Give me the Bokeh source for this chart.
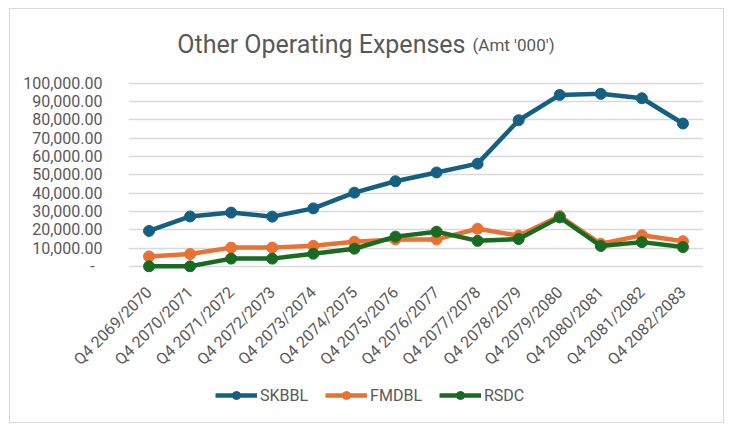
import math
from bokeh.plotting import figure
from bokeh.layouts import column
from bokeh.models import (FactorRange, Range1d, FixedTicker, CustomJSTickFormatter,
                          Legend, LegendItem, Label)
from bokeh.embed import file_html
from bokeh.resources import INLINE

categories = ["Q4 2069/2070", "Q4 2070/2071", "Q4 2071/2072", "Q4 2072/2073",
              "Q4 2073/2074", "Q4 2074/2075", "Q4 2075/2076", "Q4 2076/2077",
              "Q4 2077/2078", "Q4 2078/2079", "Q4 2079/2080", "Q4 2080/2081",
              "Q4 2081/2082", "Q4 2082/2083"]
skbbl = [19400, 27300, 29400, 27200, 31700, 40300, 46500, 51300, 56100,
         79800, 93600, 94200, 91800, 78000]
fmdbl = [5500, 6800, 10300, 10300, 11300, 13500, 14800, 14800, 20600,
         16800, 27500, 12400, 17000, 13800]
rsdc = [100, 100, 4300, 4300, 7000, 9700, 16300, 19000, 14000,
        15000, 26800, 11200, 13300, 10600]
series_names = ["SKBBL", "FMDBL", "RSDC"]
series_values = [skbbl, fmdbl, rsdc]
colors = ["#156082", "#E97132", "#196B24"]
y_ticks = list(range(0, 100001, 10000))

FONT = "Roboto"
TEXT = "#595959"
LW = 4.5
MS = 11

p = figure(width=713, height=370, x_range=FactorRange(*categories),
           y_range=Range1d(-3270, 134200), output_backend="svg",
           toolbar_location=None, min_border_left=118, min_border_right=20,
           min_border_top=11, min_border_bottom=107)
p.outline_line_color = None

p.xgrid.grid_line_color = None
p.ygrid.grid_line_color = "#D9D9D9"
p.ygrid.grid_line_width = 1.5

p.yaxis.ticker = FixedTicker(ticks=y_ticks)
p.yaxis.formatter = CustomJSTickFormatter(code="""
    if (tick == 0) { return "-\u00a0\u00a0"; }
    return tick.toLocaleString('en-US', {minimumFractionDigits: 2, maximumFractionDigits: 2});
""")
for ax in (p.xaxis, p.yaxis):
    ax.axis_line_color = None
    ax.major_tick_line_color = None
    ax.minor_tick_line_color = None
    ax.major_label_text_font = FONT
    ax.major_label_text_font_size = "16px"
    ax.major_label_text_color = TEXT
p.yaxis.major_label_standoff = 20
p.xaxis.major_label_standoff = 11
p.xaxis.major_label_orientation = math.pi / 4

for name, vals, c in zip(series_names, series_values, colors):
    p.line(x=categories, y=vals, line_width=LW, line_color=c)
    p.scatter(x=categories, y=vals, size=MS, fill_color=c, line_color=c)

p.add_layout(Label(x=337, y=228, x_units="screen", y_units="screen",
                   text="Other Operating Expenses", text_align="right",
                   text_baseline="alphabetic", text_font=FONT,
                   text_font_size="25px", text_color=TEXT))
p.add_layout(Label(x=344, y=228, x_units="screen", y_units="screen",
                   text="(Amt '000')", text_align="left",
                   text_baseline="alphabetic", text_font=FONT,
                   text_font_size="17px", text_color=TEXT))

# legend strip (same series drawn out of view; only the legend shows)
lg = figure(width=713, height=43, x_range=FactorRange(*categories),
            y_range=Range1d(500000, 600000),
            output_backend="svg", toolbar_location=None,
            min_border_left=0, min_border_right=0, min_border_top=0,
            min_border_bottom=0)
lg.axis.visible = False
lg.grid.visible = False
lg.outline_line_color = None
items = []
for name, vals, c in zip(series_names, series_values, colors):
    l = lg.line(x=categories, y=vals, line_width=LW, line_color=c)
    s = lg.scatter(x=categories, y=vals, size=MS, fill_color=c, line_color=c)
    items.append(LegendItem(label=name, renderers=[l, s]))
legend = Legend(items=items, orientation="horizontal", location=(87, 17),
                border_line_color=None, background_fill_alpha=0,
                label_text_font=FONT, label_text_font_size="16px",
                label_text_color=TEXT, glyph_width=42, glyph_height=20,
                label_standoff=3, spacing=17, padding=0, margin=0)
lg.add_layout(legend)

layout = column(p, lg, spacing=0,
                styles={"margin-left": "9px", "margin-top": "8px",
                        "border": "1px solid #D9D9D9"})

open("out.html", "w").write(file_html(layout, INLINE))
